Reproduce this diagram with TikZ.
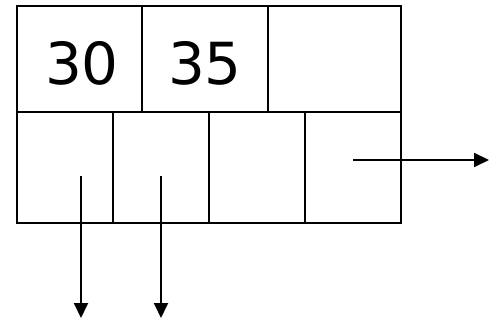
\documentclass[tikz,border=0pt]{standalone}
\usepackage{fontspec}
\setmainfont{DejaVu Sans}
\usetikzlibrary{arrows.meta}
\begin{document}
\begin{tikzpicture}[x=1pt,y=-1pt,
  cell/.style={draw=black, line width=2pt, anchor=north west, inner sep=0pt, outer sep=0pt, font=\fontsize{58}{58}\selectfont},
  ptr/.style={line width=2pt, -{Triangle[length=15pt,width=14pt]}}]
\useasboundingbox (0,0) rectangle (489,320);
\fill[white] (0,0) rectangle (489,320);
% top row
\node[cell, minimum width=125pt, minimum height=106pt] (t1) at (17,6) {};
\node[cell, minimum width=126pt, minimum height=106pt] (t2) at (142,6) {};
\node[cell, minimum width=133pt, minimum height=106pt] (t3) at (268,6) {};
\node[font=\fontsize{58}{58}\selectfont, inner sep=0pt] (l1) at (82,63) {30};
\node[font=\fontsize{58}{58}\selectfont, inner sep=0pt] (l2) at (205,63) {35};
% bottom row
\node[cell, minimum width=96pt, minimum height=111pt] (b1) at (17,112) {};
\node[cell, minimum width=96pt, minimum height=111pt] (b2) at (113,112) {};
\node[cell, minimum width=96pt, minimum height=111pt] (b3) at (209,112) {};
\node[cell, minimum width=96pt, minimum height=111pt] (b4) at (305,112) {};
% pointers
\coordinate (s1) at (81,176);
\coordinate (e1) at (81,318);
\coordinate (s2) at (161,176);
\coordinate (e2) at (161,318);
\coordinate (s3) at (353,160);
\coordinate (e3) at (489,160);
\draw[ptr] (s1) -- (e1);
\draw[ptr] (s2) -- (e2);
\draw[ptr] (s3) -- (e3);
\end{tikzpicture}
\end{document}
